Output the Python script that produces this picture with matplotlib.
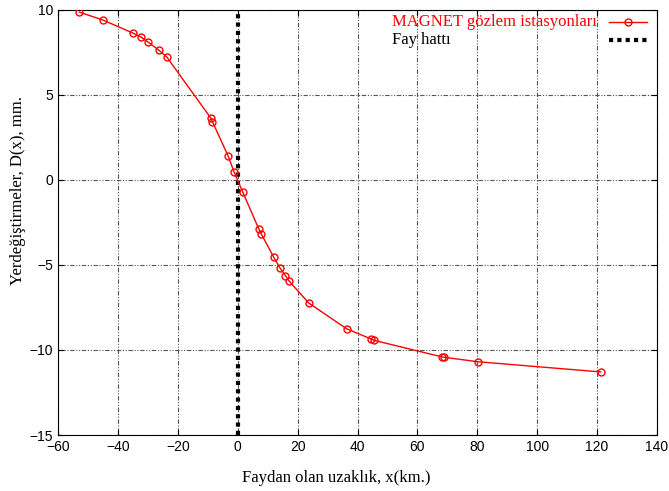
import matplotlib.pyplot as plt

# station distance from fault (km) and displacement (mm)
dist_km = [-52.9, -45.2, -35.0, -32.5, -30.1, -26.4, -23.7, -9.0, -8.5, -3.3,
           -1.2, 1.6, 7.0, 7.8, 12.0, 14.0, 15.9, 17.1, 23.7, 36.4,
           44.6, 45.4, 68.3, 69.0, 80.1, 121.2]
disp_mm = [9.86, 9.41, 8.63, 8.41, 8.12, 7.63, 7.22, 3.63, 3.43, 1.43,
           0.45, -0.70, -2.88, -3.16, -4.55, -5.16, -5.63, -5.94, -7.24, -8.76,
           -9.36, -9.43, -10.41, -10.43, -10.69, -11.29]
fault_x = [0, 0]
fault_y = [-15, 10]

serif = ["Liberation Serif", "DejaVu Serif"]
plt.rcParams["font.family"] = ["Liberation Sans", "DejaVu Sans"]

fig = plt.figure(figsize=(6.69, 4.91), dpi=100)
ax = fig.add_axes([0.087, 0.114, 0.895, 0.866])

station_style = dict(color="red", lw=1, marker="o", ms=5, mfc="none", mec="red", mew=1)
fault_style = dict(color="black", lw=3, ls=(0, (1, 1)))

ax.plot(dist_km, disp_mm, zorder=3, **station_style)
ax.plot(fault_x, fault_y, zorder=2, **fault_style)

ax.set_xlim(-60, 140)
ax.set_ylim(-15, 10)
ax.set_xticks(range(-60, 141, 20))
ax.set_yticks(range(-15, 11, 5))
ax.grid(True, color="#555555", lw=0.8, ls=(0, (4, 1.5, 1, 1.5, 1, 1.5)))
ax.tick_params(direction="in", top=True, right=True, labelsize=10, length=4)

ax.set_xlabel("Faydan olan uzaklık, x(km.)", family=serif, fontsize=12)
ax.set_ylabel("Yerdeğiştirmeler, D(x), mm.", family=serif, fontsize=12)
ax.xaxis.set_label_coords(0.464, -0.082)
ax.yaxis.set_label_coords(-0.053, 0.576)

# key: labels left-aligned, samples on the right
key = [("MAGNET gözlem istasyonları", "red", station_style, 0.972),
       ("Fay hattı", "black", fault_style, 0.929)]
for label, tcolor, style, ky in key:
    ax.text(0.557, ky, label, transform=ax.transAxes, color=tcolor,
            family=serif, fontsize=12, ha="left", va="center")
    ax.plot([0.92, 0.9515, 0.983], [ky, ky, ky], transform=ax.transAxes,
            clip_on=False, markevery=[1] if "marker" in style else None,
            **style)

fig.savefig("out.png", dpi=100)
